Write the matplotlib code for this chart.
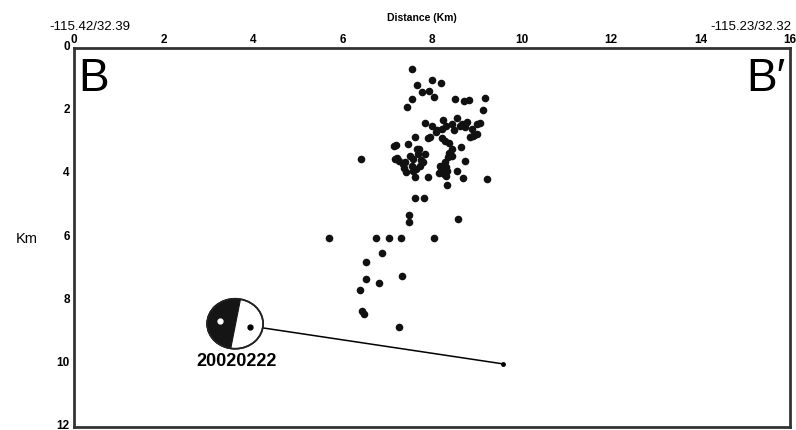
import numpy as np
import matplotlib
matplotlib.use("Agg")
import matplotlib.pyplot as plt
import matplotlib.transforms as mtransforms
from matplotlib.patches import Polygon, Ellipse

# hypocenters along profile B-B' : distance (km), depth (km)
dist = [
    7.56, 7.66, 8.01, 8.20, 7.77, 7.93, 8.04, 7.55, 7.43, 8.51, 8.72, 8.83, 9.18, 9.15,
    7.84, 7.99, 8.25, 8.31, 8.22, 8.44, 8.55, 8.66, 8.74, 8.79, 8.89, 9.00, 9.07, 8.94,
    9.00, 8.10, 8.08, 7.62, 7.91, 7.96, 8.22, 8.29, 8.39, 8.85, 8.92, 7.14, 7.20, 7.47,
    8.64, 7.70, 6.41, 7.17, 7.27, 7.35, 7.37, 7.42, 7.51, 7.58, 7.55, 7.64, 7.73, 7.66,
    7.69, 7.75, 7.84, 7.62, 7.91, 8.18, 8.22, 8.25, 8.33, 8.29, 8.36, 8.39, 8.44, 8.55,
    8.74, 8.70, 9.22, 8.34, 8.27, 8.31, 8.20, 7.62, 7.81, 7.49, 7.49, 8.57, 5.70, 6.74,
    7.04, 7.30, 8.04, 6.88, 6.53, 6.52, 6.82, 7.33, 6.38, 6.44, 6.47, 7.26,
    7.22, 7.40, 7.58, 7.80, 8.24, 8.27, 8.31, 8.45, 8.15, 8.62, 8.48,
]
depth = [
    0.66, 1.16, 1.02, 1.09, 1.40, 1.35, 1.54, 1.61, 1.85, 1.61, 1.68, 1.65, 1.59, 1.96,
    2.37, 2.46, 2.27, 2.46, 2.56, 2.41, 2.22, 2.41, 2.51, 2.35, 2.56, 2.41, 2.37, 2.75,
    2.72, 2.59, 2.66, 2.83, 2.86, 2.83, 2.86, 2.95, 3.01, 2.83, 2.77, 3.11, 3.06, 3.04,
    3.14, 3.20, 3.52, 3.51, 3.57, 3.67, 3.81, 3.91, 3.41, 3.51, 3.74, 3.83, 3.74, 3.20,
    3.35, 3.54, 3.35, 4.09, 4.09, 3.72, 3.88, 3.93, 3.88, 3.62, 3.46, 3.32, 3.41, 3.88,
    3.59, 4.12, 4.15, 4.34, 3.70, 3.78, 3.80, 4.76, 4.76, 5.28, 5.52, 5.42, 6.00, 6.00,
    6.00, 6.00, 6.00, 6.49, 6.79, 7.31, 7.44, 7.22, 7.66, 8.33, 8.42, 8.84,
    3.49, 3.60, 3.90, 3.62, 3.75, 4.00, 4.05, 3.20, 3.95, 2.48, 2.60,
]

x_ticks = [0, 2, 4, 6, 8, 10, 12, 14, 16]
y_ticks = [0, 2, 4, 6, 8, 10, 12]

# focal mechanism 20020222
event_name = "20020222"
event_loc = (9.58, 10.0)
ball_pos = (3.60, 8.73)

fig = plt.figure(figsize=(7.96, 4.31), dpi=100)
ax = fig.add_axes([0.093, 0.007, 0.8995, 0.879])

ax.scatter(dist, depth, s=30, color="#111111", zorder=3, linewidths=0)

ax.set_xlim(0, 16)
ax.set_ylim(12, 0)
ax.xaxis.tick_top()
ax.set_xticks(x_ticks)
ax.set_yticks(y_ticks)
ax.tick_params(length=0, labelsize=8.5, pad=3)
ax.tick_params(axis="x", pad=2)
lift = mtransforms.ScaledTranslation(0, 3.5 / 100, fig.dpi_scale_trans)
for lab in ax.get_xticklabels() + ax.get_yticklabels():
    lab.set_fontweight("bold")
    lab.set_fontfamily("Liberation Sans")
for lab in ax.get_yticklabels():
    lab.set_transform(lab.get_transform() + lift)
for sp in ax.spines.values():
    sp.set_linewidth(2)
    sp.set_color("#333333")

# end labels of the profile
ax.text(0.1, 0.25, "B", fontsize=33, family="Liberation Sans", va="top", ha="left")
ax.text(15.9, 0.25, "B\u2032", fontsize=33, family="Liberation Sans", va="top", ha="right")

fig.text(0.53, 0.958, "Distance (Km)", fontsize=7.5, fontweight="bold",
         family="Liberation Sans", ha="center", va="center")
fig.text(0.113, 0.937, "-115.42/32.39", fontsize=9.5, family="Liberation Sans",
         ha="center", va="center")
fig.text(0.994, 0.937, "-115.23/32.32", fontsize=9.5, family="Liberation Sans",
         ha="right", va="center")
fig.text(0.034, 0.445, "Km", fontsize=10.5, family="Liberation Sans", ha="center", va="center")

# line from the beach ball to the hypocenter
ax.plot([ball_pos[0], event_loc[0]], [ball_pos[1], event_loc[1]], color="black",
        lw=1.1, zorder=4)
ax.plot([event_loc[0]], [event_loc[1]], "o", color="black", ms=2.5, zorder=4)

# beach ball drawn in inches around its data position so it stays round
trans = fig.dpi_scale_trans + mtransforms.ScaledTranslation(ball_pos[0], ball_pos[1], ax.transData)
rx, ry = 0.28, 0.25
ax.add_patch(Ellipse((0, 0), 2 * rx, 2 * ry, transform=trans, facecolor="white",
                     edgecolor="#222222", lw=1.2, zorder=5))
ang = np.radians(np.linspace(79, 261, 80))
seg = np.column_stack([rx * np.cos(ang), ry * np.sin(ang)])
ax.add_patch(Polygon(seg, closed=True, transform=trans, facecolor="#151515",
                     edgecolor="#151515", lw=0.8, zorder=6))
ax.add_patch(Ellipse((0, 0), 2 * rx, 2 * ry, transform=trans, facecolor="none",
                     edgecolor="#222222", lw=1.2, zorder=7))
ax.plot([-0.15], [0.023], "o", color="white", ms=3.5, transform=trans, zorder=8)
ax.plot([0.15], [-0.033], "o", color="black", ms=3.5, transform=trans, zorder=8)
ax.text(0.017, -0.367, event_name, transform=trans, fontsize=13, fontweight="bold",
        family="Liberation Sans", ha="center", va="center", zorder=8)

fig.savefig("out.png", dpi=100)
